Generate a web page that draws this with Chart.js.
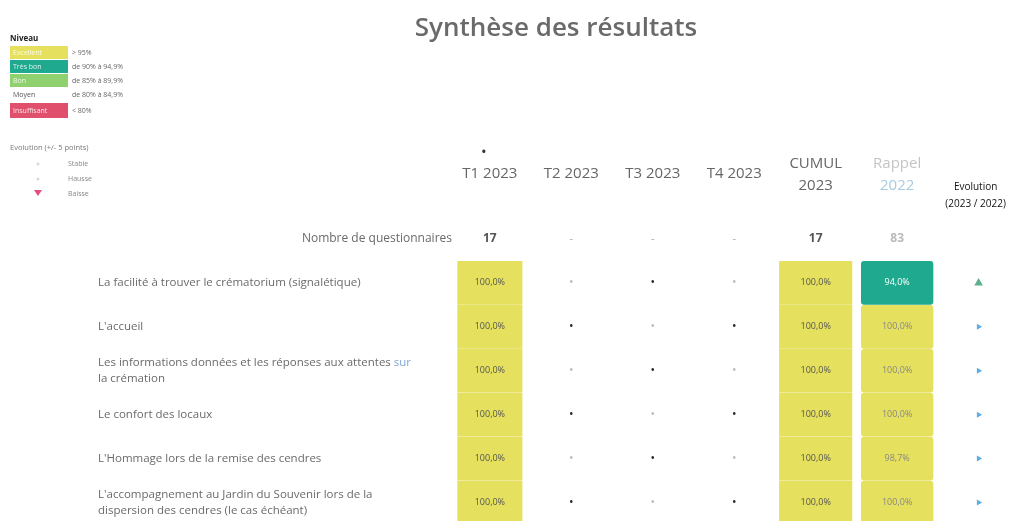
<!DOCTYPE html>
<html>
<head>
<meta charset="utf-8">
<script src="https://cdn.jsdelivr.net/npm/chart.js@4"></script>
<style>
    html, body { margin: 0; padding: 0; background: #fff; }
    #wrap { width: 1010px; height: 521px; }
</style>
</head>
<body>
<div id="wrap"><canvas id="synthese"></canvas></div>
<script>
const columns = ["T1 2023", "T2 2023", "T3 2023", "T4 2023", "CUMUL 2023", "Rappel 2022"];
const nbQuestionnaires = [17, null, null, null, 17, 83];
const criteria = [
    ["La facilité à trouver le crématorium (signalétique)"],
    ["L'accueil"],
    ["Les informations données et les réponses aux attentes sur", "la crémation"],
    ["Le confort des locaux"],
    ["L'Hommage lors de la remise des cendres"],
    ["L'accompagnement au Jardin du Souvenir lors de la", "dispersion des cendres (le cas échéant)"],
];
const t1_2023 = [100, 100, 100, 100, 100, 100];
const t2_2023 = [null, null, null, null, null, null];
const t3_2023 = [null, null, null, null, null, null];
const t4_2023 = [null, null, null, null, null, null];
const cumul2023 = [100, 100, 100, 100, 100, 100];
const rappel2022 = [94.0, 100, 100, 100, 98.7, 100];

const levelNames = ["Excellent", "Très bon", "Bon", "Moyen", "Insuffisant"];
const levelRanges = ["> 95%", "de 90% à 94,9%", "de 85% à 89,9%", "de 80% à 84,9%", "< 80%"];
const levelMins = [95, 90, 85, 80, 0];
const evolutionNames = ["Stable", "Hausse", "Baisse"];
const evolutionThreshold = 5;

// styles
const levelColors = ["#e5e05d", "#1fa98f", "#8fd16e", "#ffffff", "#e0506c"];
const levelTextColors = ["#555", "#ffffff", "#555", "#555", "#ffffff"];
const FONT = "'Open Sans', sans-serif";
const halfWidths = [0.395, 0.395, 0.395, 0.395, 0.445, 0.44];

const columnValues = [t1_2023, t2_2023, t3_2023, t4_2023, cumul2023, rappel2022];
const levelOf = (v) => levelMins.findIndex((m) => v >= m);
const fmt = (v) => v.toFixed(1).replace(".", ",") + "%";
const evolutionOf = (i) => {
    let d = cumul2023[i] - rappel2022[i];
    if (d > evolutionThreshold) return "Hausse";
    if (d < -evolutionThreshold) return "Baisse";
    return "Stable";
};

let cellDatasets = columnValues.map((values, c) => ({
    type: "bar",
    label: columns[c],
    data: values
        .map((v, i) => (v == null ? null : { y: i + 1, x: [c + 1 - halfWidths[c], c + 1 + halfWidths[c]], v: v }))
        .filter((d) => d),
    backgroundColor: (ctx) => (ctx.raw ? levelColors[levelOf(ctx.raw.v)] : "transparent"),
    borderRadius: c == 5 ? 3 : 0,
    borderSkipped: false,
    grouped: false,
    barThickness: 43,
    clip: false,
}));

let evolutionDataset = {
    type: "scatter",
    label: "Evolution",
    data: criteria.map((_, i) => ({ x: 7, y: i + 1, e: evolutionOf(i) })),
    pointStyle: "triangle",
    rotation: (ctx) => (ctx.raw.e == "Hausse" ? 0 : ctx.raw.e == "Baisse" ? 180 : 90),
    radius: (ctx) => (ctx.raw.e == "Stable" ? 3.5 : 5),
    backgroundColor: (ctx) => (ctx.raw.e == "Hausse" ? "#5fb08c" : ctx.raw.e == "Baisse" ? "#e0507a" : "#5aaee0"),
    borderWidth: 0,
};

const tableText = {
    id: "tableText",
    afterDraw(chart) {
        let ctx = chart.ctx;
        let x = chart.scales.x;
        let y = chart.scales.y;
        ctx.save();
        ctx.textBaseline = "middle";

        // legend, top left
        ctx.textAlign = "left";
        ctx.fillStyle = "#222";
        ctx.font = `bold 8px ${FONT}`;
        ctx.fillText("Niveau", 10, 39);
        let ly = [46, 60, 74, 88, 103];
        levelNames.forEach((name, i) => {
            let h = i == 4 ? 15 : 13;
            ctx.fillStyle = levelColors[i];
            ctx.fillRect(10, ly[i], 58, h);
            ctx.fillStyle = i == 3 ? "#555" : "rgba(255,255,255,0.85)";
            ctx.font = `7px ${FONT}`;
            ctx.fillText(name, 13, ly[i] + h / 2);
            ctx.fillStyle = "#666";
            ctx.fillText(levelRanges[i], 72, ly[i] + h / 2);
        });
        ctx.fillStyle = "#777";
        ctx.font = `7.5px ${FONT}`;
        ctx.fillText("Evolution (+/- " + evolutionThreshold + " points)", 10, 148);
        evolutionNames.forEach((name, i) => {
            let ey = 164 + i * 15;
            ctx.fillStyle = "#888";
            ctx.font = `7px ${FONT}`;
            ctx.fillText(name, 68, ey);
            ctx.beginPath();
            if (name == "Baisse") {
                ctx.fillStyle = "#e0507a";
                ctx.moveTo(34, ey - 4);
                ctx.lineTo(42, ey - 4);
                ctx.lineTo(38, ey + 2);
            } else {
                ctx.fillStyle = "#d8d8d8";
                ctx.arc(38, ey, 1.5, 0, Math.PI * 2);
            }
            ctx.fill();
        });

        // column headers
        ctx.textAlign = "center";
        ctx.font = `15px ${FONT}`;
        ctx.fillStyle = "#666";
        for (let c = 0; c < 4; c++) {
            ctx.fillText(columns[c], x.getPixelForValue(c + 1), y.getPixelForValue(-1.48));
        }
        ctx.fillStyle = "#333";
        ctx.fillText("•", x.getPixelForValue(1) - 6, y.getPixelForValue(-1.96));
        let [cumA, cumB] = columns[4].split(" ");
        ctx.fillStyle = "#666";
        ctx.fillText(cumA, x.getPixelForValue(5), y.getPixelForValue(-1.71));
        ctx.fillText(cumB, x.getPixelForValue(5), y.getPixelForValue(-1.21));
        let [rapA, rapB] = columns[5].split(" ");
        ctx.fillStyle = "#c4c4c4";
        ctx.fillText(rapA, x.getPixelForValue(6), y.getPixelForValue(-1.71));
        ctx.fillStyle = "#a9cbe2";
        ctx.fillText(rapB, x.getPixelForValue(6), y.getPixelForValue(-1.21));
        ctx.fillStyle = "#111";
        ctx.font = `10px ${FONT}`;
        ctx.fillText("Evolution", x.getPixelForValue(7) - 3, y.getPixelForValue(-1.18));
        ctx.fillText("(2023 / 2022)", x.getPixelForValue(7) - 3, y.getPixelForValue(-0.8));

        // row labels
        ctx.textAlign = "right";
        ctx.font = `12px ${FONT}`;
        ctx.fillStyle = "#6a6a6a";
        ctx.fillText("Nombre de questionnaires", 452, y.getPixelForValue(0));
        ctx.textAlign = "left";
        ctx.font = `11.5px ${FONT}`;
        criteria.forEach((lines, i) => {
            let cy = y.getPixelForValue(i + 1);
            lines.forEach((line, k) => {
                let ty = cy + (k - (lines.length - 1) / 2) * 16;
                if (line.endsWith(" sur")) {
                    let head = line.slice(0, -3);
                    ctx.fillStyle = "#6a6a6a";
                    ctx.fillText(head, 98, ty);
                    ctx.fillStyle = "#7fa6d4";
                    ctx.fillText("sur", 98 + ctx.measureText(head).width, ty);
                } else {
                    ctx.fillStyle = "#6a6a6a";
                    ctx.fillText(line, 98, ty);
                }
            });
        });

        // nombre de questionnaires
        ctx.textAlign = "center";
        nbQuestionnaires.forEach((n, c) => {
            let px = x.getPixelForValue(c + 1);
            let py = y.getPixelForValue(0);
            if (n == null) {
                ctx.fillStyle = "#aaa";
                ctx.font = `11px ${FONT}`;
                ctx.fillText("-", px, py);
            } else {
                ctx.fillStyle = c == 5 ? "#bbb" : "#555";
                ctx.font = `bold 12px ${FONT}`;
                ctx.fillText(n, px, py);
            }
        });

        // cell values
        columnValues.forEach((values, c) => {
            let px = x.getPixelForValue(c + 1);
            values.forEach((v, i) => {
                let py = y.getPixelForValue(i + 1);
                if (v == null) {
                    ctx.fillStyle = (i + c) % 2 ? "#bbb" : "#222";
                    ctx.font = `12px ${FONT}`;
                    ctx.fillText("•", px, py);
                } else {
                    let lvl = levelOf(v);
                    ctx.fillStyle = c == 5 && lvl == 0 ? "#888" : levelTextColors[lvl];
                    ctx.font = `9px ${FONT}`;
                    ctx.fillText(fmt(v), px, py);
                }
            });
        });
        ctx.restore();
    },
};

new Chart(document.getElementById("synthese"), {
    type: "bar",
    data: { datasets: [...cellDatasets, evolutionDataset] },
    options: {
        indexAxis: "y",
        responsive: true,
        maintainAspectRatio: false,
        animation: false,
        layout: { padding: { left: 102, right: 0, top: 0, bottom: 0 } },
        scales: {
            x: { type: "linear", min: -3.7617, max: 7.324, offset: false, display: false },
            y: { type: "linear", reverse: true, min: -4.284, max: 6.307, offset: false, display: false },
        },
        plugins: {
            legend: { display: false },
            tooltip: { enabled: false },
            title: {
                display: true,
                text: "Synthèse des résultats",
                color: "#6a6a6a",
                font: { family: FONT, size: 26, weight: "600" },
                padding: { top: 13, bottom: 6.6 },
            },
        },
    },
    plugins: [tableText],
});
</script>
</body>
</html>
